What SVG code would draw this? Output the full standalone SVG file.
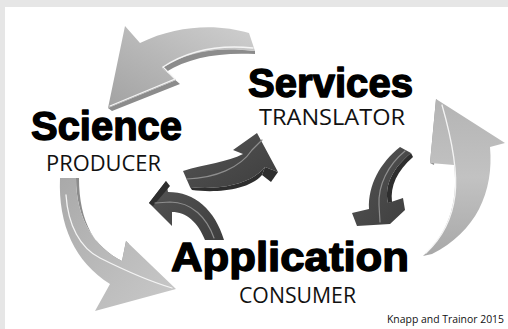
<svg xmlns="http://www.w3.org/2000/svg" width="508" height="329" viewBox="0 0 508 329">
  <defs>
    <linearGradient id="gTL" x1="1" y1="0" x2="0" y2="1">
      <stop offset="0" stop-color="#cfcfcf"/>
      <stop offset="0.5" stop-color="#b8b8b8"/>
      <stop offset="1" stop-color="#a2a2a2"/>
    </linearGradient>
    <linearGradient id="gR" x1="0" y1="0" x2="0" y2="1">
      <stop offset="0" stop-color="#b4b4b4"/>
      <stop offset="0.5" stop-color="#c2c2c2"/>
      <stop offset="1" stop-color="#a8a8a8"/>
    </linearGradient>
    <linearGradient id="gBL" x1="0" y1="0" x2="1" y2="1">
      <stop offset="0" stop-color="#a9a9a9"/>
      <stop offset="0.6" stop-color="#bdbdbd"/>
      <stop offset="1" stop-color="#c9c9c9"/>
    </linearGradient>
    <linearGradient id="gDark" x1="0" y1="0" x2="1" y2="1">
      <stop offset="0" stop-color="#555555"/>
      <stop offset="1" stop-color="#3e3e3e"/>
    </linearGradient>
  </defs>
  <style>
    .title { font-family: "Liberation Sans", Arial, sans-serif; font-weight: bold; fill: #000; stroke: #000; stroke-width: 1.4; stroke-linejoin: round; }
    .role { font-family: "Open Sans", "Liberation Sans", sans-serif; font-weight: normal; fill: #111; }
    .credit { font-family: "Open Sans", "Liberation Sans", sans-serif; font-size: 10.5px; fill: #111; }
    .light { stroke: none; }
    .dark { fill: url(#gDark); stroke: none; }
    .side { fill: #2e2e2e; }
    .sideL { fill: #8c8c8c; }
    .hl { fill: none; stroke: #f4f4f4; stroke-width: 1.3; stroke-linecap: round; }
    .hld { fill: none; stroke: #8e8e8e; stroke-width: 1.2; stroke-linecap: round; }
  </style>

  <!-- background -->
  <rect x="0" y="0" width="508" height="329" fill="#e6e6e6"/>
  <rect x="5" y="7" width="503" height="322" fill="#ffffff"/>

  <g id="connectors">
    <!-- Services -> Science (top-left light arrow) -->
    <g id="arrow-services-science">
      <path class="sideL" d="M162,68 L176,80 L108,108 L112,111 L180,84 L166,72 C188,58 218,52 255,54 L255,51 C215,46 185,52 162,68 Z"/>
      <path class="light" fill="url(#gTL)" d="M249,33 C220,24 178,24 140,43 L125,26 L108,108 L176,80 L162,68 C185,53 215,46 255,51 Z"/>
      <path class="hl" d="M253,48 C215,44 186,52 163,67 L175,79 L110,106"/>
    </g>
    <!-- Application -> Services (right light arrow) -->
    <g id="arrow-application-services">
      <path class="sideL" d="M436,99 L430,163 L434,165 L440,104 Z"/>
      <path class="light" fill="url(#gR)" d="M423,256 C446,236 459,205 454,165 L430,163 L436,99 L505,143 L490,147 C494,192 476,232 432,254 Z"/>
      <path class="hl" d="M442,105 C452,140 458,170 455,195 C452,220 440,240 426,253"/>
    </g>
    <!-- Science -> Application (bottom-left light arrow) -->
    <g id="arrow-science-application">
      <path class="sideL" d="M76,178 C76,220 95,247 122,261 L126,241 L129,244 L126,265 C95,250 79,222 79,178 Z"/>
      <path class="light" fill="url(#gBL)" d="M60,178 C58,225 75,262 110,284 L95,311 L176,289 L126,241 L122,261 C95,247 76,220 76,178 Z"/>
      <path class="hl" d="M66,195 C68,225 80,248 100,258 C120,268 145,280 172,288"/>
    </g>

    <!-- Science -> Services (dark) -->
    <g id="arrow-science-services-inner">
      <path class="dark" d="M183,171 C205,164 228,162 243,154 L233,150 L257,133 L278,172 L265,167 C250,186 215,190 190,187 Z"/>
      <path class="side" d="M278,172 L271,182 L262,175 L265,167 Z"/>
      <path class="side" d="M190,187 C215,190 250,186 265,167 L262,175 C248,191 214,193 192,190 Z"/>
      <path class="hld" d="M187,179 C215,178 240,168 252,150 L262,140"/>
    </g>
    <!-- Application -> Science (dark) -->
    <g id="arrow-application-science-inner">
      <path class="dark" d="M168,192 C195,192 215,210 224,240 L205,240 C198,222 186,212 172,212 L172,226 L149,203 L166,181 Z"/>
      <path class="side" d="M166,181 L149,203 L153,206 L170,186 Z"/>
      <path class="hld" d="M155,203 L170,202 C192,202 207,218 214,238"/>
    </g>
    <!-- Services -> Application (dark) -->
    <g id="arrow-services-application-inner">
      <path class="dark" d="M400,147 C380,163 368,185 369,209 L352,213 L357,226 L390,224 L405,210 L403,198 L388,203 C384,185 393,168 411,153 Z"/>
      <path class="side" d="M388,203 C384,185 393,168 411,153 L413,157 C397,171 390,186 392,202 Z"/>
      <path class="hld" d="M405,151 C388,165 378,185 379,205 L380,222"/>
    </g>
  </g>

  <g id="node-services">
    <text class="title" x="248" y="97" font-size="40" textLength="165" lengthAdjust="spacingAndGlyphs">Services</text>
    <text class="role" x="259" y="125" font-size="21" textLength="146" lengthAdjust="spacingAndGlyphs">TRANSLATOR</text>
  </g>
  <g id="node-science">
    <text class="title" x="31" y="140" font-size="40" textLength="151" lengthAdjust="spacingAndGlyphs">Science</text>
    <text class="role" x="46" y="171" font-size="21" textLength="115" lengthAdjust="spacingAndGlyphs">PRODUCER</text>
  </g>
  <g id="node-application">
    <text class="title" x="171" y="271" font-size="40" textLength="238" lengthAdjust="spacingAndGlyphs">Application</text>
    <text class="role" x="239" y="303" font-size="21" textLength="117" lengthAdjust="spacingAndGlyphs">CONSUMER</text>
  </g>

  <text class="credit" x="387" y="323" textLength="117" lengthAdjust="spacingAndGlyphs">Knapp and Trainor 2015</text>
</svg>
